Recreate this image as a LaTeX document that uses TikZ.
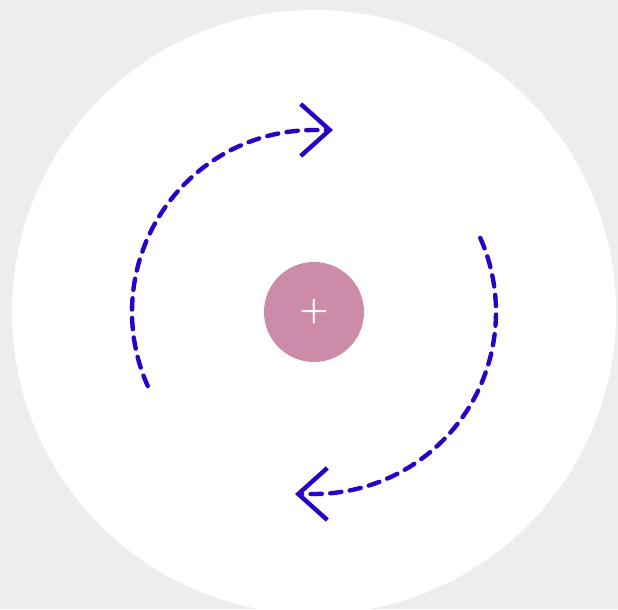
\documentclass[tikz,border=0pt]{standalone}
\usetikzlibrary{arrows.meta}
\definecolor{paper}{HTML}{EEECED}
\definecolor{rose}{HTML}{CD8BAA}
\definecolor{indigo}{HTML}{2A02C6}

\begin{document}
\begin{tikzpicture}[
  turn/.style={draw=indigo,line width=1.25pt,dash pattern=on 3.2pt off 2.4pt,line cap=round,-{Straight Barb[length=2.9mm,width=5.2mm,line width=1.25pt]}},
  hub/.style={circle,fill=rose,text=white,minimum size=10mm,inner sep=0pt,font=\fontsize{9}{11}\selectfont\bfseries}
]
\fill[paper] (-3.14,-2.97) rectangle (3.04,3.12);
\useasboundingbox (-3.14,-2.97) rectangle (3.04,3.12);
\fill[white] (0,0) circle (3.02);

\node[hub] (plus) at (0,0) {+};

\draw[turn] (plus.center) ++(204:1.82) arc[start angle=204,end angle=90,radius=1.82] -- ++(0.19,0);
\draw[turn] (plus.center) ++(24:1.82) arc[start angle=24,end angle=-90,radius=1.82] -- ++(-0.19,0);
\end{tikzpicture}
\end{document}
